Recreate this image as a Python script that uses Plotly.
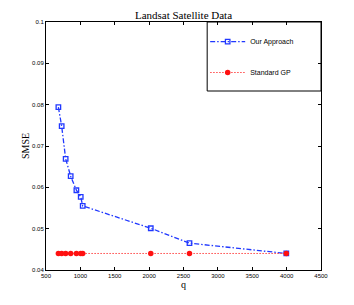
import plotly.graph_objects as go

q_ours = [680, 728, 786, 859, 942, 1005, 1034, 2024, 2587, 3995]
smse_ours = [0.0794, 0.0748, 0.0669, 0.0627, 0.0593, 0.0577, 0.0555, 0.0501, 0.0465, 0.0440]
q_gp = [680, 728, 786, 859, 942, 1005, 1034, 2024, 2587, 3995]
smse_gp = [0.0440] * 10
x_ticks = [500, 1000, 1500, 2000, 2500, 3000, 3500, 4000, 4500]
y_ticks = [0.04, 0.05, 0.06, 0.07, 0.08, 0.09, 0.1]
y_tick_labels = ["0.04", "0.05", "0.06", "0.07", "0.08", "0.09", "0.1"]

fig = go.Figure()
fig.add_trace(go.Scatter(
    x=q_ours, y=smse_ours, name="Our Approach", mode="lines+markers",
    line=dict(color="#2038ff", width=1.3, dash="5px,2px,1.5px,2px"),
    marker=dict(symbol="square-open", size=4.5, color="#2038ff", line=dict(width=1.3)),
    legend="legend"))
fig.add_trace(go.Scatter(
    x=q_gp, y=smse_gp, name="Standard GP", mode="lines+markers",
    line=dict(color="#ff4848", width=1, dash="1.5px,1.5px"),
    marker=dict(symbol="circle", size=5.5, color="#ff1010"),
    legend="legend2"))

axis_common = dict(showline=True, linecolor="black", linewidth=1, mirror="ticks",
                   ticks="inside", ticklen=3, tickcolor="black", showgrid=False,
                   zeroline=False, automargin=False,
                   tickfont=dict(family="Liberation Sans", size=6, color="black"))

H = 248.0
W = 274.7
leg_font = dict(family="Liberation Sans", size=7, color="black")
fig.update_layout(
    width=354, height=305,
    margin=dict(l=46, r=33, t=22, b=35),
    paper_bgcolor="white", plot_bgcolor="white",
    title=dict(text="Landsat Satellite Data", x=0.5, xref="paper", xanchor="center",
               y=1 - 15.5 / 305, yanchor="middle",
               font=dict(family="Liberation Serif", size=11, color="black")),
    xaxis=dict(range=[500, 4500], tickvals=x_ticks,
               title=dict(text="q", standoff=0, font=dict(family="Liberation Serif", size=10, color="black")),
               **axis_common),
    yaxis=dict(range=[0.04, 0.1], tickvals=y_ticks, ticktext=y_tick_labels,
               title=dict(text="SMSE", standoff=0, font=dict(family="Liberation Serif", size=10, color="black")),
               **axis_common),
    showlegend=True,
    legend=dict(x=(205 - 46) / W, y=1 - (41.7 - 22) / H, xanchor="left", yanchor="middle",
                bgcolor="rgba(0,0,0,0)", font=leg_font, itemwidth=35),
    legend2=dict(x=(205 - 46) / W, y=1 - (72.5 - 22) / H, xanchor="left", yanchor="middle",
                 bgcolor="rgba(0,0,0,0)", font=leg_font, itemwidth=35),
    shapes=[dict(type="rect", xref="paper", yref="paper", x0=(207 - 46) / W, x1=1,
                 y0=1 - (91 - 22) / H, y1=1, line=dict(color="black", width=1))],
)

fig.write_html("out.html", post_script="document.body.style.margin='0';",
               config={"displayModeBar": False})
